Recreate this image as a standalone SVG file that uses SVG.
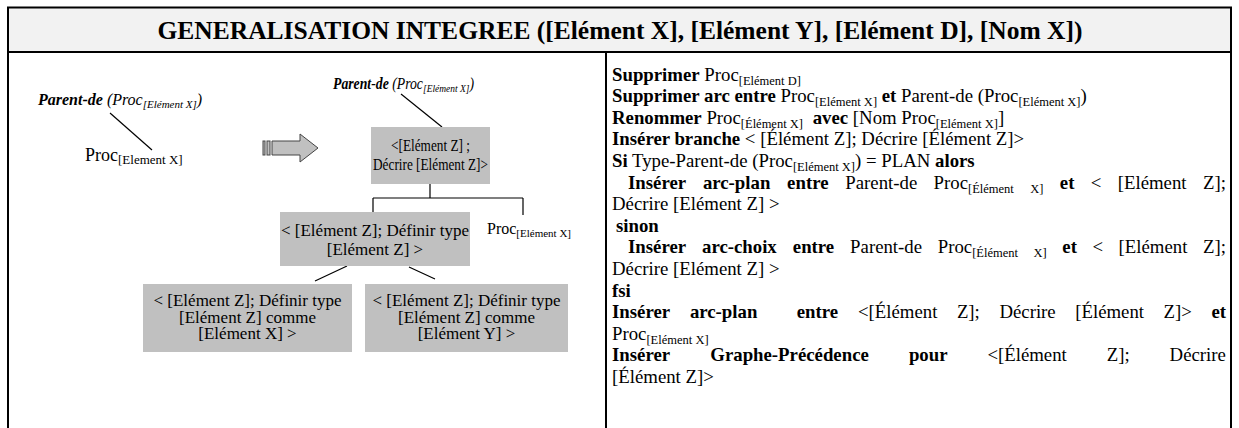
<svg xmlns="http://www.w3.org/2000/svg" width="1239" height="428" viewBox="0 0 1239 428">
<style>
.f{font-family:"Liberation Serif","Times New Roman",serif;fill:#000}
.t{font-size:18.8px}
.b{font-weight:bold}
.s{font-size:12.5px}
.d{font-size:17px}
.dl{font-size:16px}
.ds{font-size:11px}
.i{font-style:italic}
.box{fill:#c0c0c0}
.ln{stroke:#000;stroke-width:1.2;fill:none}
.bd{stroke:#000;stroke-width:2;fill:none}
.ar{fill:#c0c0c0;stroke:#444;stroke-width:1}
</style>
<rect x="0" y="0" width="1239" height="428" fill="#fff"/>
<g id="table">
<rect x="8" y="7.5" width="1223" height="44.5" fill="#f2f2f2"/>
<path class="bd" d="M7 7.5H1232M8 7.5V428M1231 7.5V428M7 52H1232M606 52V428"/>
<text class="f b" x="620" y="38.5" font-size="25.5" text-anchor="middle">GENERALISATION INTEGREE ([Elément X], [Elément Y], [Elément D], [Nom X])</text>
</g>
<g id="connectors">
<path class="ln" d="M110 113L152 150"/>
<path class="ln" d="M401 94L442 127"/>
<path class="ln" d="M430 184V198M373 198H523M373 198V212M523 198V215"/>
<path class="ln" d="M347 266L315 281M409 267L435 279"/>
</g>
<g id="arrow">
<rect class="ar" x="263" y="141" width="2" height="14"/>
<rect class="ar" x="267" y="141" width="3" height="14"/>
<polygon class="ar" points="272,141 300,141 300,134 318,148 300,162 300,155 272,155"/>
</g>
<g id="parent-left">
<text class="f dl" x="38" y="105"><tspan class="b i">Parent-de</tspan> <tspan class="i">(Proc</tspan><tspan class="i ds" dy="3">[Elément X]</tspan><tspan class="i" dy="-3">)</tspan></text>
</g>
<g id="proc-left">
<text class="f" font-size="18" x="85" y="161">Proc<tspan font-size="13" dy="3">[Element X]</tspan></text>
</g>
<g id="parent-center" transform="translate(333,0) scale(0.86,1)">
<text class="f dl" x="0" y="89"><tspan class="b i">Parent-de</tspan> <tspan class="i">(Proc</tspan><tspan class="i ds" dy="3">[Elément X]</tspan><tspan class="i" dy="-3">)</tspan></text>
</g>
<g id="node-decrire">
<rect class="box" x="371" y="127" width="119" height="57"/>
<g transform="translate(430.5,0) scale(0.78,1)">
<text class="f d" text-anchor="middle"><tspan x="0" y="151.5">&lt;[Elément Z] ;</tspan><tspan x="0" y="170.5">Décrire [Elément Z]&gt;</tspan></text>
</g>
</g>
<g id="node-definir">
<rect class="box" x="280" y="212" width="190" height="54"/>
<text class="f d" text-anchor="middle"><tspan x="375" y="236">&lt; [Elément Z]; Définir type</tspan><tspan x="375" y="255">[Elément Z] &gt;</tspan></text>
</g>
<g id="proc-right">
<text class="f dl" x="487" y="234">Proc<tspan class="ds" dy="3">[Elément X]</tspan></text>
</g>
<g id="node-x">
<rect class="box" x="143" y="284" width="209" height="68"/>
<text class="f d" text-anchor="middle"><tspan x="247.5" y="306">&lt; [Elément Z]; Définir type</tspan><tspan x="247.5" y="322.5">[Elément Z] comme</tspan><tspan x="247.5" y="339">[Elément X] &gt;</tspan></text>
</g>
<g id="node-y">
<rect class="box" x="365" y="284" width="203" height="68"/>
<text class="f d" text-anchor="middle"><tspan x="466.5" y="306">&lt; [Elément Z]; Définir type</tspan><tspan x="466.5" y="322.5">[Elément Z] comme</tspan><tspan x="466.5" y="339">[Elément Y] &gt;</tspan></text>
</g>
<g id="algorithm" class="f t">
<text x="612" y="80.5"><tspan class="b">Supprimer</tspan> Proc<tspan class="s" dy="4">[Elément D]</tspan></text>
<text x="612" y="102.1"><tspan class="b">Supprimer arc entre</tspan> Proc<tspan class="s" dy="4">[Elément X]</tspan><tspan dy="-4"> </tspan><tspan class="b">et</tspan> Parent-de (Proc<tspan class="s" dy="4">[Elément X]</tspan><tspan dy="-4">)</tspan></text>
<text x="612" y="123.7"><tspan class="b">Renommer</tspan> Proc<tspan class="s" dy="4">[Élément X]</tspan><tspan dy="-4" dx="5"> </tspan><tspan class="b">avec</tspan> [Nom Proc<tspan class="s" dy="4">[Elément X]</tspan><tspan dy="-4">]</tspan></text>
<text x="612" y="145.3"><tspan class="b">Insérer branche</tspan> &lt; [Élément Z]; Décrire [Élément Z]&gt;</text>
<text x="612" y="166.9"><tspan class="b">Si</tspan> Type-Parent-de (Proc<tspan class="s" dy="4">[Elément X]</tspan><tspan dy="-4">) = PLAN </tspan><tspan class="b">alors</tspan></text>
<text y="188.5"><tspan x="628" class="b">Insérer</tspan><tspan x="702.9" class="b">arc-plan</tspan><tspan x="787.1" class="b">entre</tspan><tspan x="845.3">Parent-de</tspan><tspan x="933.6">Proc</tspan><tspan class="s" dy="4">[Élément</tspan><tspan class="s" x="1030.3">X]</tspan><tspan x="1059.8" dy="-4" class="b">et</tspan><tspan x="1090.8">&lt;</tspan><tspan x="1117.7">[Elément</tspan><tspan x="1203">Z];</tspan></text>
<text x="612" y="210.1">Décrire [Elément Z] &gt;</text>
<text x="616" y="231.7" class="b">sinon</text>
<text y="253.3"><tspan x="628" class="b">Insérer</tspan><tspan x="702" class="b">arc-choix</tspan><tspan x="792.8" class="b">entre</tspan><tspan x="850.1">Parent-de</tspan><tspan x="937.7">Proc</tspan><tspan class="s" dy="4">[Élément</tspan><tspan class="s" x="1033.5">X]</tspan><tspan x="1062.3" dy="-4" class="b">et</tspan><tspan x="1092.4">&lt;</tspan><tspan x="1118.6">[Elément</tspan><tspan x="1203">Z];</tspan></text>
<text x="612" y="274.9">Décrire [Elément Z] &gt;</text>
<text x="612" y="296.5" class="b">fsi</text>
<text y="318.1"><tspan x="612" class="b">Insérer</tspan><tspan x="689.9" class="b">arc-plan</tspan><tspan x="796.7" class="b">entre</tspan><tspan x="858">&lt;[Élément</tspan><tspan x="956.9">Z];</tspan><tspan x="999.4">Décrire</tspan><tspan x="1075.2">[Élément</tspan><tspan x="1163.6">Z]&gt;</tspan><tspan x="1211.4" class="b">et</tspan></text>
<text x="612" y="339.7">Proc<tspan class="s" dy="4">[Elément X]</tspan></text>
<text y="361.3"><tspan x="612" class="b">Insérer</tspan><tspan x="710.3" class="b">Graphe-Précédence</tspan><tspan x="908.9" class="b">pour</tspan><tspan x="987.4">&lt;[Élément</tspan><tspan x="1106.8">Z];</tspan><tspan x="1169.6">Décrire</tspan></text>
<text x="612" y="382.9">[Élément Z]&gt;</text>
</g>
</svg>
